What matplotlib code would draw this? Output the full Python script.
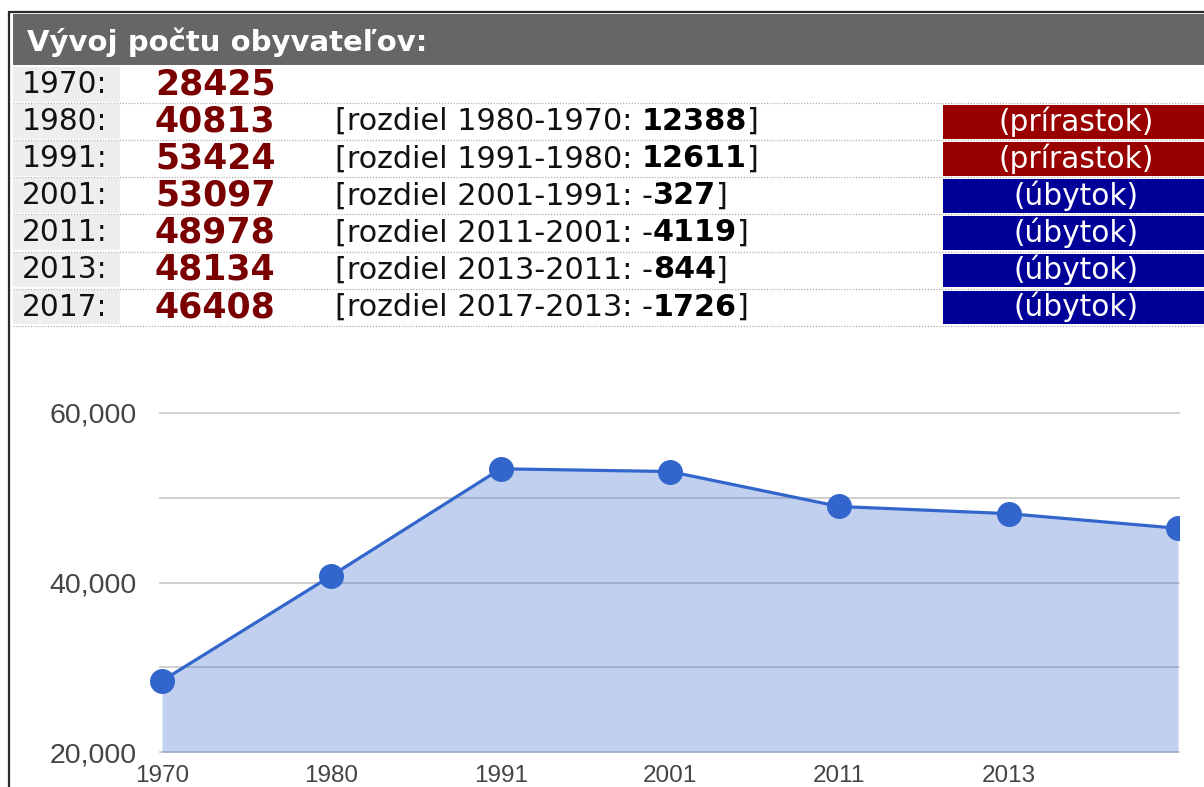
import matplotlib
matplotlib.use("Agg")
import matplotlib.pyplot as plt
from matplotlib.patches import Rectangle
from matplotlib.ticker import FuncFormatter, FixedLocator
from matplotlib.transforms import Bbox

# ---------------- data ----------------
years = ["1970", "1980", "1991", "2001", "2011", "2013", "2017"]
population = [28425, 40813, 53424, 53097, 48978, 48134, 46408]
header_title = "Vývoj počtu obyvateľov:"
label_diff = "rozdiel"
label_up = "(prírastok)"
label_down = "(úbytok)"
y_ticks = [20000, 40000, 60000]
y_grid_minor = [30000, 50000]
shown_x_labels = years[:-1]  # the last category label is not shown on the axis

W, H = 1204, 787
fig = plt.figure(figsize=(W / 100, H / 100), dpi=100)
fig.patch.set_facecolor("white")

# full-figure pixel axes for the table
ax0 = fig.add_axes([0, 0, 1, 1])
ax0.set_xlim(0, W)
ax0.set_ylim(H, 0)
ax0.axis("off")
ax0.set_zorder(0)

renderer = fig.canvas.get_renderer()


def text_width(s, size, weight="normal", family="DejaVu Sans"):
    t = ax0.text(0, 0, s, fontsize=size, fontweight=weight, family=family)
    w = t.get_window_extent(renderer=renderer).width
    t.remove()
    return w


def fit_size(s, target, weight="normal", family="DejaVu Sans"):
    return 10 * target / text_width(s, 10, weight, family)


# borders
ax0.plot([8, W], [11.5, 11.5], color="#2a2a2a", lw=1.6, solid_capstyle="butt")
ax0.plot([9, 9], [11, H], color="#2a2a2a", lw=1.6, solid_capstyle="butt")

# header bar
ax0.add_patch(Rectangle((13, 14), W - 13, 51, facecolor="#666666", edgecolor="none"))
hs = fit_size(header_title, 401, "bold")
ax0.text(27, 42, header_title, color="white", fontsize=hs, fontweight="bold",
         va="center", ha="left", family="DejaVu Sans")

# table rows
pitch = 37.1
row_top0 = 66.5
year_size = fit_size("1970:", 85)
val_size = fit_size("28425", 122, "bold")

s0 = "[" + label_diff + " 1980-1970: "
w10 = text_width(s0, 10) + text_width("12388", 10, "bold") + text_width("]", 10)
diff_size = 10 * 425 / w10
box_size = fit_size(label_up, 156)

for i, (yr, val) in enumerate(zip(years, population)):
    top = row_top0 + pitch * i
    cy = top + 18
    ax0.add_patch(Rectangle((13, top + 0.5), 107, pitch - 2.5,
                            facecolor="#eeeeee", edgecolor="none"))
    ax0.text(22, cy, yr + ":", fontsize=year_size, color="#111111",
             va="center", ha="left", family="DejaVu Sans")
    ax0.text(155, cy, str(val), fontsize=val_size, color="#7a0000",
             fontweight="bold", va="center", ha="left", family="DejaVu Sans")
    ax0.plot([13, W], [top + pitch - 0.5] * 2, color="#b0b0b0", lw=0.9,
             linestyle=(0, (1, 1.3)))
    if i > 0:
        diff = val - population[i - 1]
        part1 = "[" + label_diff + " " + yr + "-" + years[i - 1] + ": "
        sign = "-" if diff < 0 else ""
        num = str(abs(diff))
        x = 335
        t1 = ax0.text(x, cy, part1 + sign, fontsize=diff_size, color="#111111",
                      va="center", ha="left", family="DejaVu Sans")
        x += t1.get_window_extent(renderer=renderer).width
        t2 = ax0.text(x, cy, num, fontsize=diff_size, color="#000000",
                      fontweight="bold", va="center", ha="left", family="DejaVu Sans")
        x += t2.get_window_extent(renderer=renderer).width
        ax0.text(x, cy, "]", fontsize=diff_size, color="#111111",
                 va="center", ha="left", family="DejaVu Sans")
        up = diff > 0
        ax0.add_patch(Rectangle((943, top + 1.5), W - 943, pitch - 3.5,
                                facecolor="#990000" if up else "#000099",
                                edgecolor="none"))
        ax0.text(1076, cy, label_up if up else label_down, fontsize=box_size,
                 color="white", va="center", ha="center", family="DejaVu Sans")

# ---------------- chart ----------------
x_left, x_right = 160, 1179
y_top, y_bot = 413, 752.3
ax = fig.add_axes([x_left / W, 1 - y_bot / H, (x_right - x_left) / W, (y_bot - y_top) / H])
ax.set_zorder(1)
ax.patch.set_alpha(0)
xs = list(range(len(years)))
unit = (1178 - 162) / (len(years) - 1)
ax.set_xlim(-(162 - x_left) / unit, len(years) - 1 + (x_right - 1178) / unit)
ax.set_ylim(20000, 60000)

for g in y_ticks + y_grid_minor:
    ax.axhline(g, color="#cccccc", lw=1.3, zorder=1, clip_on=False)

ax.fill_between(xs, population, 20000, color="#3366cc", alpha=0.3, lw=0, zorder=2)
line, = ax.plot(xs, population, color="#3366cc", lw=2.3, zorder=3)
marks, = ax.plot(xs, population, "o", color="#3366cc", markersize=18, zorder=4,
                 markeredgewidth=0)
# clip only at the right edge of the plot area (left marker stays whole)
marks.set_clip_box(Bbox.from_extents(0, 0, x_right, H))

for sp in ax.spines.values():
    sp.set_visible(False)
ax.yaxis.set_major_locator(FixedLocator(y_ticks))
ax.yaxis.set_major_formatter(FuncFormatter(lambda v, p: f"{int(v):,}"))
ax.set_xticks(xs[:len(shown_x_labels)])
ax.set_xticklabels(shown_x_labels)
ax.tick_params(axis="y", length=0, pad=17, labelsize=20.5, labelcolor="#444444")
ax.tick_params(axis="x", length=0, pad=9, labelsize=17.5, labelcolor="#444444")
for lab in ax.get_xticklabels() + ax.get_yticklabels():
    lab.set_family("Liberation Sans")

fig.savefig("out.png", dpi=100, facecolor="white")
